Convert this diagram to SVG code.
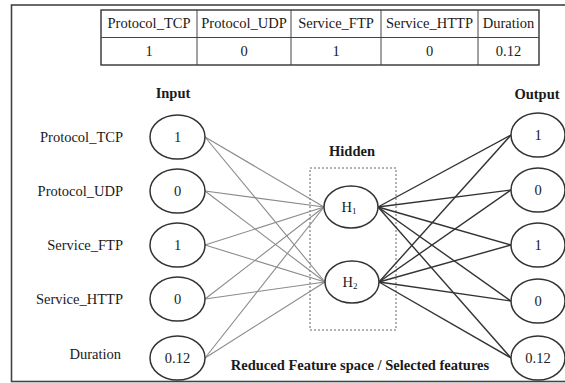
<svg xmlns="http://www.w3.org/2000/svg" width="565" height="383" viewBox="0 0 565 383">
<style>
text{font-family:"Liberation Serif","Times New Roman",serif;fill:#1a1a1a;}
.t{font-size:14.5px;text-anchor:middle;}
.lbl{font-size:14.5px;text-anchor:end;}
.b{font-size:14.5px;font-weight:bold;text-anchor:middle;}
.node{fill:#fff;stroke:#333;stroke-width:1.5;}
.cell{fill:none;stroke:#444;stroke-width:1;}
.in{stroke:#8a8a8a;stroke-width:1.1;}
.out{stroke:#333;stroke-width:1.4;}
</style>
<rect x="0" y="0" width="565" height="383" fill="#fff"/>
<rect x="11.5" y="5" width="560" height="376.5" fill="none" stroke="#444" stroke-width="1.6"/>
<g id="table">
<rect x="101" y="10" width="438" height="55" fill="none" stroke="#333" stroke-width="1.4"/>
<line class="cell" x1="101" y1="37.5" x2="539" y2="37.5"/>
<line class="cell" x1="197" y1="10" x2="197" y2="65"/>
<line class="cell" x1="291" y1="10" x2="291" y2="65"/>
<line class="cell" x1="381" y1="10" x2="381" y2="65"/>
<line class="cell" x1="478" y1="10" x2="478" y2="65"/>
<text class="t" x="149" y="28">Protocol_TCP</text>
<text class="t" x="244" y="28">Protocol_UDP</text>
<text class="t" x="336" y="28">Service_FTP</text>
<text class="t" x="429.5" y="28">Service_HTTP</text>
<text class="t" x="508.5" y="28">Duration</text>
<text class="t" x="149" y="56">1</text>
<text class="t" x="244" y="56">0</text>
<text class="t" x="336" y="56">1</text>
<text class="t" x="429.5" y="56">0</text>
<text class="t" x="508.5" y="56">0.12</text>
</g>
<g id="labels">
<text class="b" x="173" y="98">Input</text>
<text class="b" x="352" y="156">Hidden</text>
<text class="b" x="537" y="99">Output</text>
<text class="b" x="360" y="370">Reduced Feature space / Selected features</text>
<text class="lbl" x="123" y="142">Protocol_TCP</text>
<text class="lbl" x="123" y="196">Protocol_UDP</text>
<text class="lbl" x="123" y="250">Service_FTP</text>
<text class="lbl" x="123" y="304">Service_HTTP</text>
<text class="lbl" x="121" y="359">Duration</text>
</g>
<rect id="hidden-box" x="310" y="168" width="86" height="162" fill="none" stroke="#555" stroke-width="0.9" stroke-dasharray="2,2"/>
<g id="connectors">
<line class="in" x1="205" y1="137" x2="324" y2="207"/>
<line class="in" x1="205" y1="137" x2="325" y2="282"/>
<line class="in" x1="205" y1="191" x2="324" y2="207"/>
<line class="in" x1="205" y1="191" x2="325" y2="282"/>
<line class="in" x1="205" y1="245" x2="324" y2="207"/>
<line class="in" x1="205" y1="245" x2="325" y2="282"/>
<line class="in" x1="205" y1="299" x2="324" y2="207"/>
<line class="in" x1="205" y1="299" x2="325" y2="282"/>
<line class="in" x1="205" y1="358" x2="324" y2="207"/>
<line class="in" x1="205" y1="358" x2="325" y2="282"/>
<line class="out" x1="378" y1="207" x2="511" y2="135"/>
<line class="out" x1="378" y1="207" x2="511" y2="190"/>
<line class="out" x1="378" y1="207" x2="511" y2="245"/>
<line class="out" x1="378" y1="207" x2="511" y2="301"/>
<line class="out" x1="378" y1="207" x2="511" y2="358"/>
<line class="out" x1="379" y1="282" x2="511" y2="135"/>
<line class="out" x1="379" y1="282" x2="511" y2="190"/>
<line class="out" x1="379" y1="282" x2="511" y2="245"/>
<line class="out" x1="379" y1="282" x2="511" y2="301"/>
<line class="out" x1="379" y1="282" x2="511" y2="358"/>
</g>
<g id="in1"><ellipse class="node" cx="177.5" cy="137" rx="27.5" ry="22"/><text class="t" x="177.5" y="142">1</text></g>
<g id="in2"><ellipse class="node" cx="177.5" cy="191" rx="27.5" ry="22"/><text class="t" x="177.5" y="196">0</text></g>
<g id="in3"><ellipse class="node" cx="177.5" cy="245" rx="27.5" ry="22"/><text class="t" x="177.5" y="250">1</text></g>
<g id="in4"><ellipse class="node" cx="177.5" cy="299" rx="27.5" ry="22"/><text class="t" x="177.5" y="304">0</text></g>
<g id="in5"><ellipse class="node" cx="177.5" cy="358" rx="27.5" ry="22"/><text class="t" x="177.5" y="363">0.12</text></g>
<g id="h1"><ellipse class="node" cx="351" cy="207" rx="27" ry="21"/><text class="t" x="349" y="212">H<tspan font-size="9" dy="2">1</tspan></text></g>
<g id="h2"><ellipse class="node" cx="352" cy="282" rx="27" ry="21"/><text class="t" x="350" y="287">H<tspan font-size="9" dy="2">2</tspan></text></g>
<g id="out1"><ellipse class="node" cx="538" cy="135" rx="27" ry="22"/><text class="t" x="538" y="140">1</text></g>
<g id="out2"><ellipse class="node" cx="538" cy="190" rx="27" ry="22"/><text class="t" x="538" y="195">0</text></g>
<g id="out3"><ellipse class="node" cx="538" cy="245" rx="27" ry="22"/><text class="t" x="538" y="250">1</text></g>
<g id="out4"><ellipse class="node" cx="538" cy="301" rx="27" ry="22"/><text class="t" x="538" y="306">0</text></g>
<g id="out5"><ellipse class="node" cx="538" cy="358" rx="27" ry="22"/><text class="t" x="538" y="363">0.12</text></g>
</svg>
